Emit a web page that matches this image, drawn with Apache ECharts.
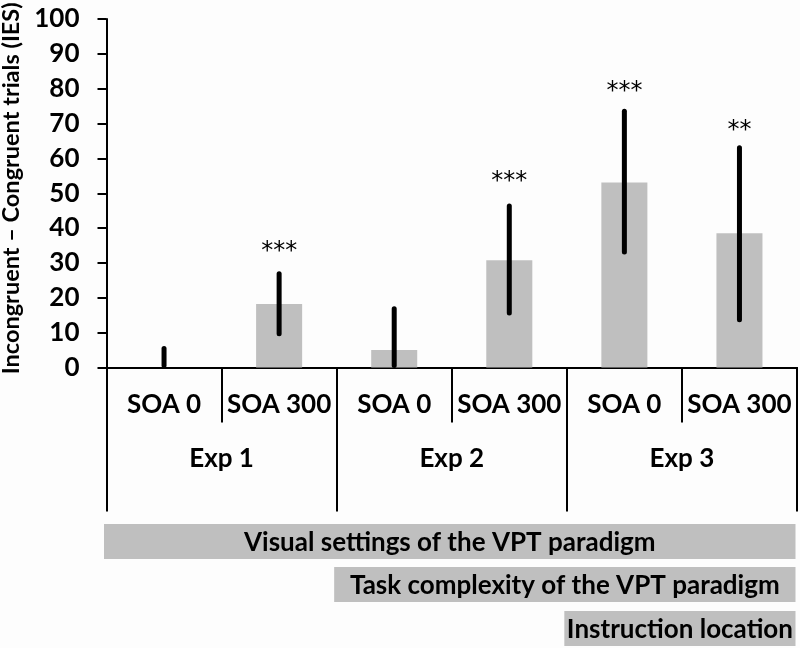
<!DOCTYPE html>
<html>
<head>
<meta charset="utf-8">
<script src="https://cdn.jsdelivr.net/npm/echarts@6/dist/echarts.min.js"></script>
<style>
html,body{margin:0;padding:0;background:#fdfdfd;}
#chart{width:800px;height:648px;}
</style>
</head>
<body>
<div id="chart"></div>
<script>
// ---- data ----
const soaLabels = ['SOA 0', 'SOA 300', 'SOA 0', 'SOA 300', 'SOA 0', 'SOA 300'];
const expLabels = ['Exp 1', 'Exp 2', 'Exp 3'];
const meanValues = [0, 18.2, 5.0, 30.8, 53.1, 38.5];
const errLow = [0, 9.1, 0, 15.1, 32.6, 13.1];
const errHigh = [6.0, 27.5, 17.4, 46.9, 74.1, 63.6];
const starIndex = [1, 3, 4, 5];
const starY = [34.7, 54.6, 80.6, 69.4];
const starText = ['***', '***', '***', '**'];
const yTicks = [0, 10, 20, 30, 40, 50, 60, 70, 80, 90, 100];
const annotLabels = ['Visual settings of the VPT paradigm', 'Task complexity of the VPT paradigm', 'Instruction location'];
const annotStart = [0, 2, 4];
const annotEnd = [5, 5, 5];

const FONT = 'Lato';
const chart = echarts.init(document.getElementById('chart'), null, {renderer: 'canvas'});

const errData = meanValues.map((v, i) => [i, errLow[i], errHigh[i]]);
const starData = starIndex.map((c, k) => [c, starY[k]]);
const annotData = annotLabels.map((t, k) => [annotStart[k], annotEnd[k]]);

const option = {
  backgroundColor: '#fdfdfd',
  animation: false,
  grid: {left: 106.5, right: 3, top: 19, bottom: 280.5, containLabel: false, outerBoundsMode: 'none'},
  xAxis: [
    {
      type: 'category', data: soaLabels, position: 'bottom',
      axisLine: {show: true, lineStyle: {color: '#000', width: 2}},
      axisTick: {show: true, interval: 0, length: 55, lineStyle: {color: '#000', width: 2}},
      axisLabel: {interval: 0, margin: 24, color: '#000', fontFamily: FONT, fontWeight: 'bold', fontSize: 26, lineHeight: 26}
    },
    {
      type: 'category', data: expLabels, position: 'bottom',
      axisLine: {show: true, lineStyle: {color: '#000', width: 2}},
      axisTick: {show: true, interval: 0, length: 144, lineStyle: {color: '#000', width: 2}},
      axisLabel: {interval: 0, margin: 78, color: '#000', fontFamily: FONT, fontWeight: 'bold', fontSize: 26, lineHeight: 26}
    }
  ],
  yAxis: {
    type: 'value', min: 0, max: 100, interval: 10,
    name: 'Incongruent \u2013 Congruent trials (IES)',
    nameLocation: 'middle', nameGap: 77,
    nameTextStyle: {color: '#000', fontFamily: FONT, fontWeight: 'bold', fontSize: 23.5, padding: [0, 0, 0, 10]},
    axisLine: {show: true, lineStyle: {color: '#000', width: 2}},
    axisTick: {show: true, length: 9, lineStyle: {color: '#000', width: 2}},
    axisLabel: {margin: 27, color: '#000', fontFamily: FONT, fontWeight: 'bold', fontSize: 26,
      formatter: v => (yTicks.indexOf(v) >= 0 ? String(v) : '')},
    splitLine: {show: false}
  },
  series: [
    {
      type: 'bar', xAxisIndex: 0, data: meanValues, barWidth: '40%',
      itemStyle: {color: '#bfbfbf'}, z: 2
    },
    {
      type: 'custom', xAxisIndex: 0, data: errData, z: 5,
      renderItem: function (params, api) {
        const i = api.value(0);
        const p1 = api.coord([i, api.value(1)]);
        const p2 = api.coord([i, api.value(2)]);
        return {
          type: 'line',
          shape: {x1: p1[0], y1: p1[1] - 2, x2: p2[0], y2: p2[1] + 2},
          style: {stroke: '#000', lineWidth: 5, lineCap: 'round'}
        };
      }
    },
    {
      type: 'custom', xAxisIndex: 0, data: starData, z: 6,
      renderItem: function (params, api) {
        const p = api.coord([api.value(0), api.value(1)]);
        return {
          type: 'text',
          style: {x: p[0], y: p[1] + 5, text: starText[params.dataIndex], fill: '#000',
            font: '24px "DejaVu Sans"', align: 'center', verticalAlign: 'middle'}
        };
      }
    },
    {
      type: 'custom', xAxisIndex: 0, data: annotData, z: 6, clip: false,
      renderItem: function (params, api) {
        const k = params.dataIndex;
        const bw = api.size([1, 0])[0];
        const x0 = api.coord([api.value(0), 0])[0] - bw / 2 - 2.5;
        const x1 = api.coord([api.value(1), 0])[0] + bw / 2 - 1.5;
        const tops = [524, 567, 611];
        const h = 35;
        return {
          type: 'group',
          children: [
            {type: 'rect', shape: {x: x0, y: tops[k], width: x1 - x0, height: h}, style: {fill: '#bfbfbf'}},
            {type: 'text', style: {x: (x0 + x1) / 2, y: tops[k] + h / 2 + 1, text: annotLabels[k], fill: '#000',
              font: 'bold 26px Lato', align: 'center', verticalAlign: 'middle'}}
          ]
        };
      }
    }
  ]
};
chart.setOption(option);
</script>
</body>
</html>
